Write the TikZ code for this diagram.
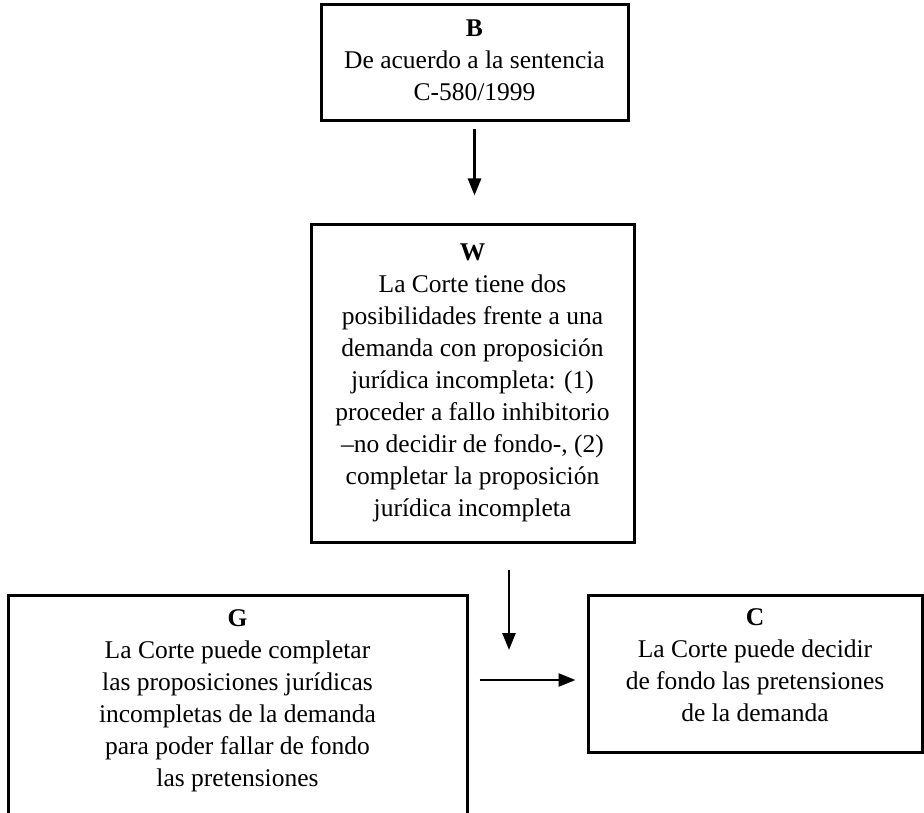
\documentclass[tikz,border=0pt]{standalone}
\usepackage{fontspec}
\setmainfont{Liberation Serif}
\usetikzlibrary{positioning,arrows.meta}

\begin{document}
\begin{tikzpicture}[x=1pt, y=-1pt, >={Triangle[length=17pt,width=13pt]},
    box/.style={rectangle, draw, line width=3pt, inner sep=0pt},
    txt/.style={align=center, inner sep=0pt, font=\fontsize{25.5pt}{32pt}\selectfont},
    link/.style={->, line width=2.6pt}]

        \clip (0,0) rectangle (924,813);

        %Nodes
        \node[box, minimum width=307pt, minimum height=116pt] (B) at (474.5,63) {};
        \node[box, minimum width=323pt, minimum height=317pt] (W) at (472.5,383.5) {};
        \node[box, minimum width=459pt, minimum height=240pt] (G) at (237.5,715) {};
        \node[box, minimum width=334pt, minimum height=157pt] (C) at (755,673.5) {};
        \coordinate (mid) at (509,680);

        \node[txt, below=16pt of B.north] (Btext) {\textbf{B}\\De acuerdo a la sentencia\\C-580/1999};
        \node[txt, below=20pt of W.north] (Wtext) {\textbf{W}\\La Corte tiene dos\\posibilidades frente a una\\demanda con proposición\\jurídica incompleta: (1)\\proceder a fallo inhibitorio\\--no decidir de fondo-, (2)\\completar la proposición\\jurídica incompleta};
        \node[txt, below=16pt of G.north] (Gtext) {\textbf{G}\\La Corte puede completar\\las proposiciones jurídicas\\incompletas de la demanda\\para poder fallar de fondo\\las pretensiones};
        \node[txt, below=15pt of C.north] (Ctext) {\textbf{C}\\La Corte puede decidir\\de fondo las pretensiones\\de la demanda};

        %Lines
        \draw[link, shorten <=7pt, shorten >=28pt] (B.south) -- (B.south |- W.north);
        \draw[link, shorten <=26pt, shorten >=30pt] (W.south -| mid) -- (mid);
        \draw[link, shorten <=11pt, shorten >=11pt] (G.east |- mid) -- (C.west |- mid);

\end{tikzpicture}
\end{document}
